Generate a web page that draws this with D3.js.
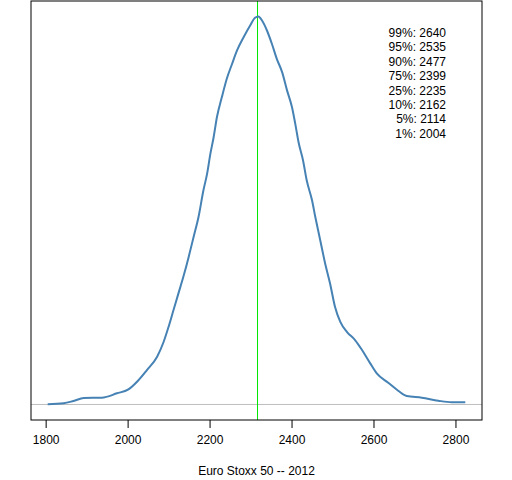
<!DOCTYPE html>
<html>
<head>
<meta charset="utf-8">
<script src="https://cdn.jsdelivr.net/npm/d3@7"></script>
<style>
  body { margin: 0; background: #fff; }
  svg text { font-family: "Liberation Sans", Arial, sans-serif; fill: #000; }
</style>
</head>
<body>
<svg id="chart" width="512" height="480"></svg>
<script>
// density estimate of the index level (x) and density (x 1e-3)
var levels = [1805, 1844, 1868, 1893, 1937, 1974, 2002, 2023, 2047, 2072,
    2088, 2100, 2112, 2124, 2136, 2149, 2161, 2173, 2185, 2194,
    2202, 2210, 2218, 2230, 2242, 2255, 2267, 2283, 2299, 2311,
    2319, 2328, 2340, 2352, 2364, 2377, 2389, 2401, 2409, 2417,
    2428, 2437, 2450, 2458, 2470, 2482, 2494, 2506, 2519, 2535,
    2555, 2572, 2592, 2608, 2636, 2661, 2681, 2718, 2758, 2791, 2824];
var density = [0.002, 0.010, 0.030, 0.055, 0.058, 0.095, 0.129, 0.194, 0.293, 0.407,
    0.534, 0.662, 0.804, 0.946, 1.087, 1.257, 1.427, 1.597, 1.824, 1.966,
    2.136, 2.278, 2.448, 2.618, 2.774, 2.902, 3.015, 3.128, 3.228, 3.293,
    3.304, 3.270, 3.185, 3.072, 2.944, 2.830, 2.675, 2.533, 2.392, 2.235,
    2.080, 1.909, 1.739, 1.597, 1.399, 1.201, 1.031, 0.832, 0.704, 0.619,
    0.549, 0.464, 0.350, 0.265, 0.185, 0.115, 0.072, 0.058, 0.032, 0.019, 0.019];

var currentLevel = 2317;

var quantileLabels = ['99%', '95%', '90%', '75%', '25%', '10%', '5%', '1%'];
var quantileValues = [2640, 2535, 2477, 2399, 2235, 2162, 2114, 2004];

var xTicks = [1800, 2000, 2200, 2400, 2600, 2800];
var xTitle = 'Euro Stoxx 50 -- 2012';

var svg = d3.select('#chart');
var plotLeft = 31, plotRight = 482, plotTop = 1, plotBottom = 420;

// R style ranges: 4% padding on each side
var xr = d3.extent(levels), xpad = (xr[1] - xr[0]) * 0.04;
var yr = [0, d3.max(density)], ypad = (yr[1] - yr[0]) * 0.04;

var x = d3.scaleLinear()
    .domain([xr[0] - xpad, xr[1] + xpad])
    .range([plotLeft, plotRight]);
var y = d3.scaleLinear()
    .domain([yr[0] - ypad, yr[1] + ypad])
    .range([plotBottom, plotTop]);

// zero line
svg.append('line')
    .attr('x1', plotLeft).attr('x2', plotRight)
    .attr('y1', y(0)).attr('y2', y(0))
    .attr('stroke', '#bebebe').attr('stroke-width', 1);

// current level
svg.append('line')
    .attr('x1', x(currentLevel)).attr('x2', x(currentLevel))
    .attr('y1', plotTop).attr('y2', plotBottom)
    .attr('stroke', '#00e600').attr('stroke-width', 1);

var line = d3.line()
    .x(function (d, i) { return x(levels[i]); })
    .y(function (d) { return y(d); })
    .curve(d3.curveMonotoneX);

svg.append('path')
    .datum(density)
    .attr('d', line)
    .attr('fill', 'none')
    .attr('stroke', '#4682b4')
    .attr('stroke-width', 2);

// box
svg.append('rect')
    .attr('x', plotLeft).attr('y', plotTop)
    .attr('width', plotRight - plotLeft).attr('height', plotBottom - plotTop)
    .attr('fill', 'none').attr('stroke', '#000').attr('stroke-width', 1);

// x axis
var axis = svg.append('g')
    .attr('transform', 'translate(0,' + plotBottom + ')')
    .call(d3.axisBottom(x).tickValues(xTicks).tickSize(8).tickPadding(7).tickFormat(d3.format('d')));
axis.select('.domain').remove();
axis.selectAll('line').attr('stroke', '#000');
axis.selectAll('text').attr('font-size', 12).style('font-family', '"Liberation Sans", Arial, sans-serif');

svg.append('text')
    .attr('x', (plotLeft + plotRight) / 2)
    .attr('y', 475)
    .attr('text-anchor', 'middle')
    .attr('font-size', 12)
    .text(xTitle);

// quantile labels
svg.append('g').selectAll('text')
    .data(quantileLabels)
    .enter().append('text')
    .attr('x', 446)
    .attr('y', function (d, i) { return 37 + i * 14.4; })
    .attr('text-anchor', 'end')
    .attr('font-size', 12)
    .text(function (d, i) { return d + ': ' + quantileValues[i]; });
</script>
</body>
</html>
